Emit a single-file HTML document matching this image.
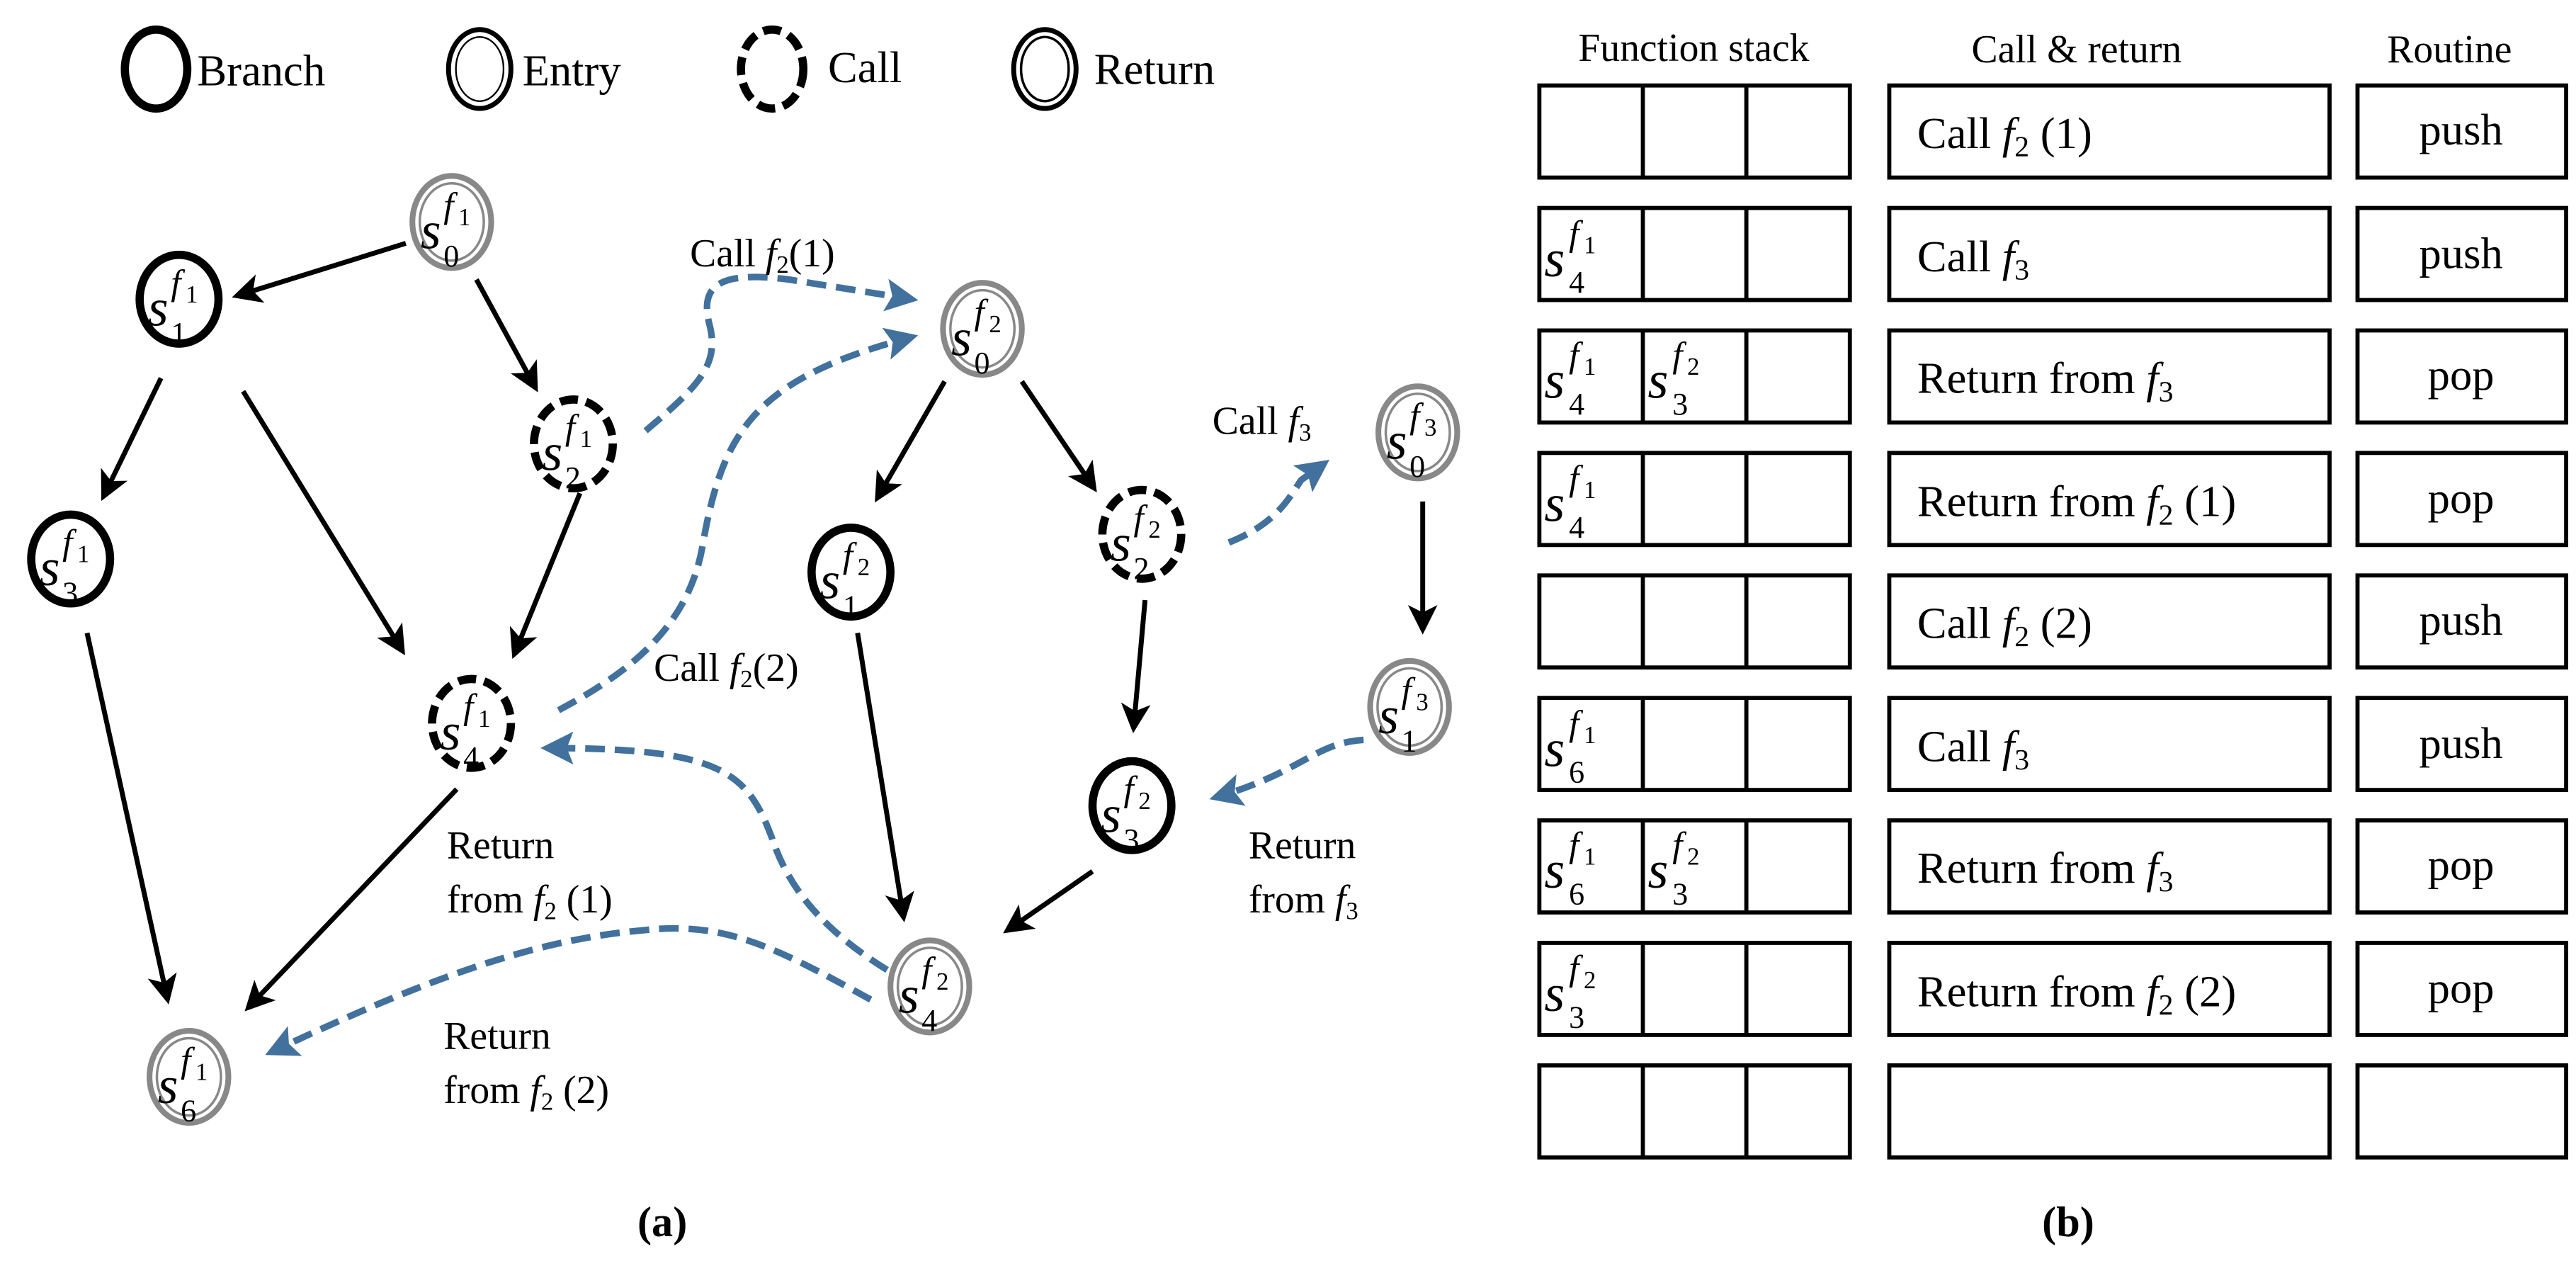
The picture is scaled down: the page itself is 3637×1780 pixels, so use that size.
<!DOCTYPE html>
<html><head><meta charset="utf-8"><style>
html,body{margin:0;padding:0;background:#fff;}
svg{display:block;}
svg text{font-family:"Liberation Serif","DejaVu Serif",serif;fill:#000;}
.it{font-style:italic;}
</style></head><body>
<svg width="3637" height="1780" viewBox="0 0 1568 767" preserveAspectRatio="none" xmlns="http://www.w3.org/2000/svg" font-family="Liberation Serif, DejaVu Serif, serif">
<defs>
<marker id="ak" markerWidth="6" markerHeight="6" refX="5" refY="3" orient="auto" markerUnits="strokeWidth"><path d="M0,0 L6,3 L0,6 L1.5,3 z" fill="#000"/></marker>
<marker id="ab" markerWidth="5" markerHeight="5" refX="4" refY="2.5" orient="auto" markerUnits="strokeWidth"><path d="M0,0 L5,2.5 L0,5 L1,2.5 z" fill="#41719c"/></marker>
</defs>

<!-- Legend -->
<g fill="none">
<ellipse cx="95" cy="42" rx="19" ry="24" stroke="#000" stroke-width="5"/>
<ellipse cx="292" cy="42" rx="19" ry="24" stroke="#000" stroke-width="3"/>
<ellipse cx="292" cy="42" rx="14.5" ry="19.5" stroke="#000" stroke-width="1"/>
<ellipse cx="470" cy="42" rx="19" ry="24" stroke="#000" stroke-width="5" stroke-dasharray="11,5"/>
<ellipse cx="636" cy="42" rx="19" ry="24" stroke="#000" stroke-width="3"/>
<ellipse cx="636" cy="42" rx="14.5" ry="19.5" stroke="#000" stroke-width="1.5"/>
</g>
<g font-size="27">
<text x="120" y="52">Branch</text>
<text x="318" y="52">Entry</text>
<text x="504" y="50">Call</text>
<text x="666" y="51">Return</text>
</g>

<!-- Black arrows -->
<g stroke="#000" stroke-width="3" fill="none" marker-end="url(#ak)">
<line x1="247" y1="148" x2="144" y2="180"/>
<line x1="290" y1="170" x2="326" y2="236"/>
<line x1="98" y1="230" x2="63" y2="302"/>
<line x1="148" y1="238" x2="245" y2="396"/>
<line x1="353" y1="300" x2="313" y2="398"/>
<line x1="53" y1="385" x2="102" y2="608"/>
<line x1="278" y1="480" x2="151" y2="613"/>
<line x1="575" y1="232" x2="534" y2="303"/>
<line x1="622" y1="232" x2="666" y2="297"/>
<line x1="522" y1="385" x2="550" y2="558"/>
<line x1="697" y1="365" x2="690" y2="443"/>
<line x1="665" y1="530" x2="613" y2="566"/>
<line x1="866" y1="305" x2="866" y2="383"/>
</g>

<!-- Blue dashed arrows -->
<g stroke="#41719c" stroke-width="4" fill="none" stroke-dasharray="12,6" marker-end="url(#ab)">
<path d="M393,262 C425,235 438,222 432,198 C425,172 440,165 480,170 L555,182"/>
<path d="M340,432 C385,408 420,380 428,330 C440,262 460,230 555,205"/>
<path d="M748,330 C778,318 785,302 792,292 L806,282"/>
<path d="M830,450 C800,452 792,470 740,485"/>
<path d="M540,590 C500,565 480,540 470,510 C455,470 440,455 333,455"/>
<path d="M530,608 C470,575 440,560 390,566 C320,572 250,600 165,640"/>
</g>

<!-- Nodes -->
<g fill="#fff">
<g stroke="#888">
<ellipse cx="275" cy="135" rx="24" ry="28" stroke-width="3.5"/><ellipse cx="275" cy="135" rx="19.5" ry="23.5" stroke-width="1.5" fill="none"/>
<ellipse cx="598" cy="200" rx="24" ry="28" stroke-width="3.5"/><ellipse cx="598" cy="200" rx="19.5" ry="23.5" stroke-width="1.5" fill="none"/>
<ellipse cx="863" cy="263" rx="24" ry="28" stroke-width="3.5"/><ellipse cx="863" cy="263" rx="19.5" ry="23.5" stroke-width="1.5" fill="none"/>
<ellipse cx="858" cy="430" rx="24" ry="28" stroke-width="3.5"/><ellipse cx="858" cy="430" rx="19.5" ry="23.5" stroke-width="1.5" fill="none"/>
<ellipse cx="566" cy="600" rx="24" ry="28" stroke-width="3.5"/><ellipse cx="566" cy="600" rx="19.5" ry="23.5" stroke-width="1.5" fill="none"/>
<ellipse cx="115" cy="655" rx="24" ry="28" stroke-width="3.5"/><ellipse cx="115" cy="655" rx="19.5" ry="23.5" stroke-width="1.5" fill="none"/>
</g>
<g stroke="#000" stroke-width="5">
<ellipse cx="109" cy="182" rx="24" ry="27"/>
<ellipse cx="43" cy="340" rx="24" ry="27"/>
<ellipse cx="518" cy="348" rx="24" ry="27"/>
<ellipse cx="689" cy="490" rx="24" ry="27"/>
</g>
<g stroke="#000" stroke-width="5" stroke-dasharray="11,5">
<ellipse cx="349" cy="270" rx="24" ry="27"/>
<ellipse cx="287" cy="440" rx="24" ry="27"/>
<ellipse cx="695" cy="325" rx="24" ry="27"/>
</g>
</g>

<!-- Node labels -->
<g>
<text x="256" y="151" font-size="32" class="it">s</text><text x="270" y="132" font-size="22" class="it">f</text><text x="279" y="137" font-size="15">1</text><text x="270" y="162" font-size="19">0</text>
<text x="90" y="198" font-size="32" class="it">s</text><text x="104" y="179" font-size="22" class="it">f</text><text x="113" y="184" font-size="15">1</text><text x="104" y="209" font-size="19">1</text>
<text x="330" y="286" font-size="32" class="it">s</text><text x="344" y="267" font-size="22" class="it">f</text><text x="353" y="272" font-size="15">1</text><text x="344" y="297" font-size="19">2</text>
<text x="24" y="356" font-size="32" class="it">s</text><text x="38" y="337" font-size="22" class="it">f</text><text x="47" y="342" font-size="15">1</text><text x="38" y="367" font-size="19">3</text>
<text x="268" y="456" font-size="32" class="it">s</text><text x="282" y="437" font-size="22" class="it">f</text><text x="291" y="442" font-size="15">1</text><text x="282" y="467" font-size="19">4</text>
<text x="96" y="671" font-size="32" class="it">s</text><text x="110" y="652" font-size="22" class="it">f</text><text x="119" y="657" font-size="15">1</text><text x="110" y="682" font-size="19">6</text>
<text x="579" y="216" font-size="32" class="it">s</text><text x="593" y="197" font-size="22" class="it">f</text><text x="602" y="202" font-size="15">2</text><text x="593" y="227" font-size="19">0</text>
<text x="499" y="364" font-size="32" class="it">s</text><text x="513" y="345" font-size="22" class="it">f</text><text x="522" y="350" font-size="15">2</text><text x="513" y="375" font-size="19">1</text>
<text x="676" y="341" font-size="32" class="it">s</text><text x="690" y="322" font-size="22" class="it">f</text><text x="699" y="327" font-size="15">2</text><text x="690" y="352" font-size="19">2</text>
<text x="670" y="506" font-size="32" class="it">s</text><text x="684" y="487" font-size="22" class="it">f</text><text x="693" y="492" font-size="15">2</text><text x="684" y="517" font-size="19">3</text>
<text x="547" y="616" font-size="32" class="it">s</text><text x="561" y="597" font-size="22" class="it">f</text><text x="570" y="602" font-size="15">2</text><text x="561" y="627" font-size="19">4</text>
<text x="844" y="279" font-size="32" class="it">s</text><text x="858" y="260" font-size="22" class="it">f</text><text x="867" y="265" font-size="15">3</text><text x="858" y="290" font-size="19">0</text>
<text x="839" y="446" font-size="32" class="it">s</text><text x="853" y="427" font-size="22" class="it">f</text><text x="862" y="432" font-size="15">3</text><text x="853" y="457" font-size="19">1</text>
</g>

<!-- Edge labels -->
<g font-size="24">
<text x="420" y="162">Call <tspan class="it">f</tspan><tspan font-size="15" dy="4">2</tspan><tspan dy="-4">(1)</tspan></text>
<text x="738" y="264">Call <tspan class="it">f</tspan><tspan font-size="15" dy="4">3</tspan></text>
<text x="398" y="414">Call <tspan class="it">f</tspan><tspan font-size="15" dy="4">2</tspan><tspan dy="-4">(2)</tspan></text>
<text x="272" y="522">Return</text>
<text x="272" y="555">from <tspan class="it">f</tspan><tspan font-size="15" dy="4">2</tspan><tspan dy="-4"> (1)</tspan></text>
<text x="760" y="522">Return</text>
<text x="760" y="555">from <tspan class="it">f</tspan><tspan font-size="15" dy="4">3</tspan></text>
<text x="270" y="638">Return</text>
<text x="270" y="671">from <tspan class="it">f</tspan><tspan font-size="15" dy="4">2</tspan><tspan dy="-4"> (2)</tspan></text>
</g>
<text x="388" y="752" font-size="26" font-weight="bold">(a)</text>
<text x="1243" y="752" font-size="26" font-weight="bold">(b)</text>

<!-- Table -->
<g font-size="24" text-anchor="middle">
<text x="1031" y="37">Function stack</text>
<text x="1264" y="38">Call &amp; return</text>
<text x="1491" y="38">Routine</text>
</g>
<g fill="none" stroke="#000" stroke-width="2.5">
<g id="row">
<rect x="937" y="52" width="189" height="56"/><line x1="1000" y1="52" x2="1000" y2="108"/><line x1="1063" y1="52" x2="1063" y2="108"/>
<rect x="1150" y="52" width="268" height="56"/><rect x="1435" y="52" width="127" height="56"/>
</g>
<use href="#row" y="74.5"/><use href="#row" y="149"/><use href="#row" y="223.5"/><use href="#row" y="298"/>
<use href="#row" y="372.5"/><use href="#row" y="447"/><use href="#row" y="521.5"/><use href="#row" y="596"/>
</g>

<g font-size="27">
<text x="1167" y="90">Call <tspan class="it">f</tspan><tspan font-size="18" dy="5">2</tspan><tspan dy="-5"> (1)</tspan></text>
<text x="1167" y="165">Call <tspan class="it">f</tspan><tspan font-size="18" dy="5">3</tspan></text>
<text x="1167" y="239">Return from <tspan class="it">f</tspan><tspan font-size="18" dy="5">3</tspan></text>
<text x="1167" y="314">Return from <tspan class="it">f</tspan><tspan font-size="18" dy="5">2</tspan><tspan dy="-5"> (1)</tspan></text>
<text x="1167" y="388">Call <tspan class="it">f</tspan><tspan font-size="18" dy="5">2</tspan><tspan dy="-5"> (2)</tspan></text>
<text x="1167" y="463">Call <tspan class="it">f</tspan><tspan font-size="18" dy="5">3</tspan></text>
<text x="1167" y="537">Return from <tspan class="it">f</tspan><tspan font-size="18" dy="5">3</tspan></text>
<text x="1167" y="612">Return from <tspan class="it">f</tspan><tspan font-size="18" dy="5">2</tspan><tspan dy="-5"> (2)</tspan></text>
</g>
<g font-size="27" text-anchor="middle">
<text x="1498" y="88">push</text>
<text x="1498" y="163">push</text>
<text x="1498" y="237">pop</text>
<text x="1498" y="312">pop</text>
<text x="1498" y="386">push</text>
<text x="1498" y="461">push</text>
<text x="1498" y="535">pop</text>
<text x="1498" y="610">pop</text>
</g>

<!-- Stack cell labels -->
<g>
<text x="940" y="168" font-size="32" class="it">s</text><text x="955" y="149" font-size="22" class="it">f</text><text x="964" y="154" font-size="15">1</text><text x="955" y="178" font-size="19">4</text>
<text x="940" y="242" font-size="32" class="it">s</text><text x="955" y="223" font-size="22" class="it">f</text><text x="964" y="228" font-size="15">1</text><text x="955" y="252" font-size="19">4</text>
<text x="1003" y="242" font-size="32" class="it">s</text><text x="1018" y="223" font-size="22" class="it">f</text><text x="1027" y="228" font-size="15">2</text><text x="1018" y="252" font-size="19">3</text>
<text x="940" y="317" font-size="32" class="it">s</text><text x="955" y="298" font-size="22" class="it">f</text><text x="964" y="303" font-size="15">1</text><text x="955" y="327" font-size="19">4</text>
<text x="940" y="466" font-size="32" class="it">s</text><text x="955" y="447" font-size="22" class="it">f</text><text x="964" y="452" font-size="15">1</text><text x="955" y="476" font-size="19">6</text>
<text x="940" y="540" font-size="32" class="it">s</text><text x="955" y="521" font-size="22" class="it">f</text><text x="964" y="526" font-size="15">1</text><text x="955" y="550" font-size="19">6</text>
<text x="1003" y="540" font-size="32" class="it">s</text><text x="1018" y="521" font-size="22" class="it">f</text><text x="1027" y="526" font-size="15">2</text><text x="1018" y="550" font-size="19">3</text>
<text x="940" y="615" font-size="32" class="it">s</text><text x="955" y="596" font-size="22" class="it">f</text><text x="964" y="601" font-size="15">2</text><text x="955" y="625" font-size="19">3</text>
</g>
</svg>
</body></html>
